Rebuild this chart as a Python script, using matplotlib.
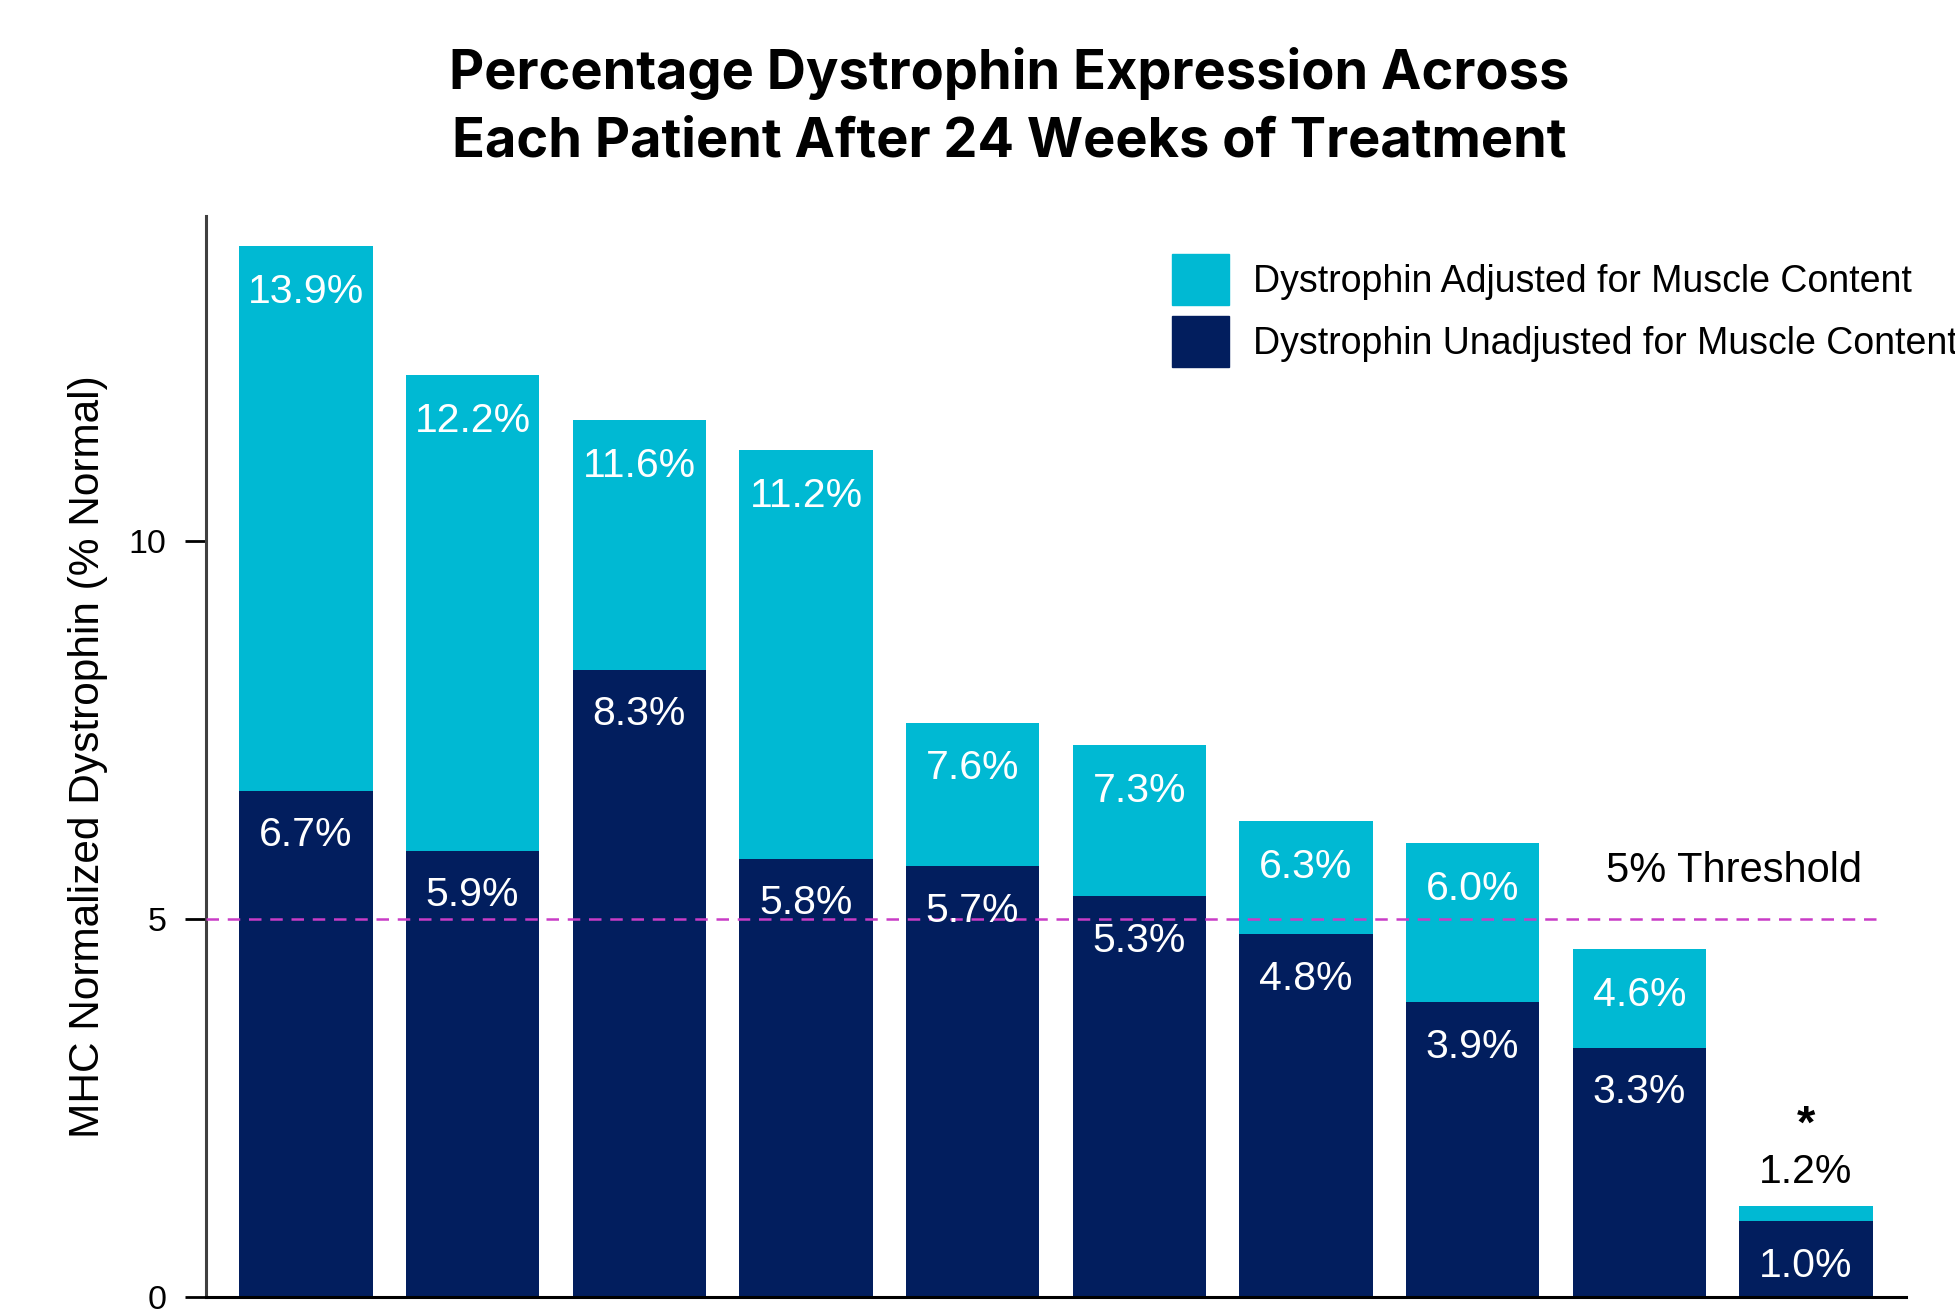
import numpy as np
import matplotlib
matplotlib.use("Agg")
import matplotlib.pyplot as plt
from matplotlib.patches import Patch

plt.rcParams["font.family"] = ["Liberation Sans", "DejaVu Sans"]

# -----------------------------
# Data
# -----------------------------

patients = list(range(10))
adjusted = [13.9, 12.2, 11.6, 11.2, 7.6, 7.3, 6.3, 6.0, 4.6, 1.2]
unadjusted = [6.7, 5.9, 8.3, 5.8, 5.7, 5.3, 4.8, 3.9, 3.3, 1.0]
threshold = 5
y_ticks = [0, 5, 10]

LIGHT = "#00B9D3"
DARK = "#021E5E"
MAGENTA = "#C93CC6"

# -----------------------------
# Figure
# -----------------------------

fig = plt.figure(figsize=(19.56, 13.15), dpi=100)
ax = fig.add_axes([0.1053, 0.0137, 0.8691, 0.8220])

x = np.arange(len(patients))
ax.bar(x, adjusted, width=0.8, color=LIGHT, zorder=1)
ax.bar(x, unadjusted, width=0.8, color=DARK, zorder=2)

ax.plot([-0.6, 9.45], [threshold, threshold], color=MAGENTA, linewidth=1.8,
        dashes=(5, 3.5), zorder=3)
ax.text(8.57, 5.63, "5% Threshold", fontsize=30, ha="center", va="center", color="black")

for i in x:
    if i == len(x) - 1:
        ax.annotate(f"{adjusted[i]:.1f}%", (i, adjusted[i]), xytext=(0, 25),
                    textcoords="offset points", ha="center", va="center",
                    fontsize=29.5, color="black", zorder=4)
        ax.annotate("*", (i, adjusted[i]), xytext=(0, 58),
                    textcoords="offset points", ha="center", va="center",
                    fontsize=34, fontweight="bold", color="black", zorder=4)
    else:
        ax.annotate(f"{adjusted[i]:.1f}%", (i, adjusted[i]), xytext=(0, -33),
                    textcoords="offset points", ha="center", va="center",
                    fontsize=29.5, color="white", zorder=4)
    ax.annotate(f"{unadjusted[i]:.1f}%", (i, unadjusted[i]), xytext=(0, -32),
                textcoords="offset points", ha="center", va="center",
                fontsize=29.5, color="white", zorder=4)

ax.set_xlim(-0.6, 9.6)
ax.set_ylim(0, 14.3)
ax.set_xticks([])
ax.set_yticks(y_ticks)
ax.tick_params(axis="y", labelsize=24.5, length=15, width=2, pad=13.5, colors="black")
ax.set_ylabel("MHC Normalized Dystrophin (% Normal)", fontsize=30.5, labelpad=15)

for side in ["top", "right"]:
    ax.spines[side].set_visible(False)
ax.spines["left"].set_color("#404040")
ax.spines["left"].set_linewidth(2.2)
ax.spines["bottom"].set_color("black")
ax.spines["bottom"].set_linewidth(2.2)

handles = [Patch(color=LIGHT), Patch(color=DARK)]
fig.legend(handles,
           ["Dystrophin Adjusted for Muscle Content", "Dystrophin Unadjusted for Muscle Content"],
           loc="upper left", bbox_to_anchor=(1172 / 1956, 1 - 254 / 1315),
           bbox_transform=fig.transFigure, frameon=False, fontsize=27,
           handlelength=1.52, handleheight=1.715, handletextpad=0.64,
           labelspacing=0.30, borderpad=0, borderaxespad=0)

fig.text(0.516, 1 - 73 / 1315, "Percentage Dystrophin Expression Across",
         fontsize=39, fontweight="bold", family="Inter", ha="center", va="center")
fig.text(0.516, 1 - 142 / 1315, "Each Patient After 24 Weeks of Treatment",
         fontsize=39, fontweight="bold", family="Inter", ha="center", va="center")

fig.savefig("out.png", dpi=100)
